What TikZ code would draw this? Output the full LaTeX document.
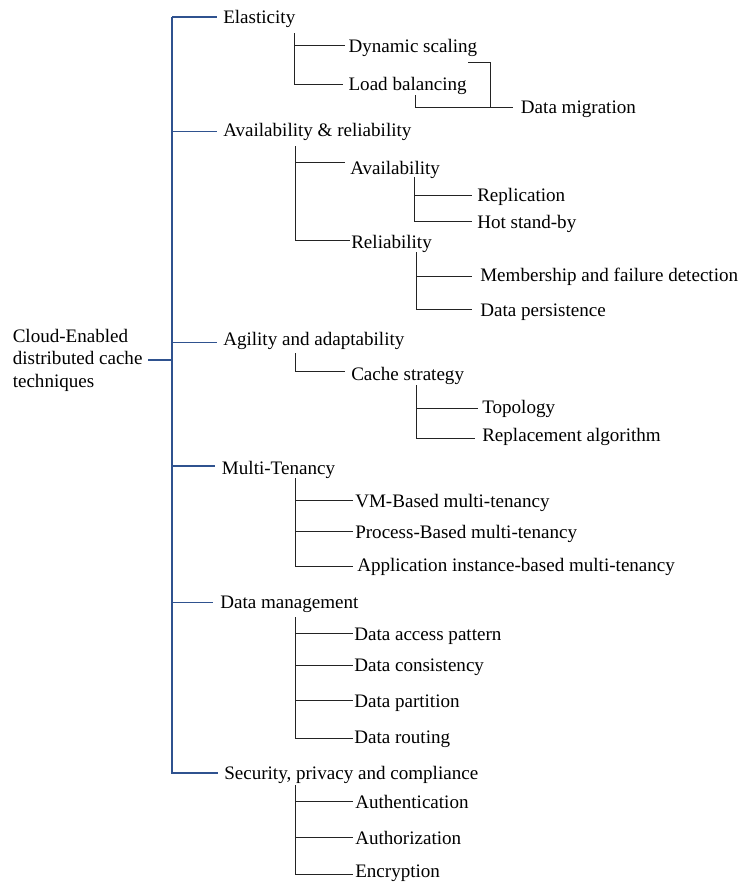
\documentclass[tikz,border=0pt]{standalone}
\usepackage{fontspec}
\setmainfont{Liberation Serif}
\definecolor{trunk}{RGB}{47,82,143}
\definecolor{twig}{RGB}{35,35,35}
\tikzset{
  lbl/.style={anchor=base west, inner sep=0pt, font=\fontsize{14.3}{16.9}\selectfont, text=black},
  trunkline/.style={draw=trunk, line width=0.8pt},
  twigline/.style={draw=twig, line width=0.75pt}
}
\begin{document}
\begin{tikzpicture}[x=0.75pt,y=-0.75pt]
\useasboundingbox (0,0) rectangle (740,882);
\fill[white] (0,0) rectangle (740,882);

% ---------- root ----------
\node[lbl, anchor=west, align=left] (root) at (12.5,360.4) {Cloud-Enabled\\distributed cache\\techniques};
\coordinate (root-e) at (148,360);
\coordinate (tj) at (172,360);

% ---------- level 1 labels ----------
\node[lbl] (elast) at (223,23.3) {Elasticity};
\node[lbl] (avrel) at (223,136.7) {Availability \& reliability};
\node[lbl] (agil)  at (223,345) {Agility and adaptability};
\node[lbl] (multi) at (221.7,474) {Multi-Tenancy};
\node[lbl] (dm)    at (220,608.3) {Data management};
\node[lbl] (sec)   at (224,779.3) {Security, privacy and compliance};

\coordinate (t-top) at (172,17);
\coordinate (elast-e) at (217,17);
\coordinate (avrel-e) at (217,131.7);
\coordinate (agil-e)  at (217,342.7);
\coordinate (multi-e) at (215,466);
\coordinate (dm-e)    at (213,602.7);
\coordinate (sec-e)   at (218,773);

\draw[trunkline] (t-top) |- (sec-e);
\draw[trunkline] (t-top) -- (elast-e);
\draw[trunkline] (t-top |- avrel-e) -- (avrel-e);
\draw[trunkline] (t-top |- agil-e) -- (agil-e);
\draw[trunkline] (t-top |- multi-e) -- (multi-e);
\draw[trunkline] (t-top |- dm-e) -- (dm-e);
\draw[trunkline] (root-e) -- (tj);

% ---------- Elasticity ----------
\node[lbl] (dyn)  at (348.3,52.3) {Dynamic scaling};
\node[lbl] (load) at (348.3,90.7) {Load balancing};
\node[lbl] (migr) at (520.7,113.3) {Data migration};
\coordinate (ev) at (294.3,33.3);
\coordinate (dyn-e) at (345,45);
\coordinate (load-e) at (343,84.3);
\draw[twigline] (ev) |- (load-e);
\draw[twigline] (ev |- dyn-e) -- (dyn-e);
\coordinate (mig-a) at (468,62.7);
\coordinate (mig-b) at (490.7,107.3);
\coordinate (mig-c) at (415,95);
\coordinate (migr-e) at (513.3,107.3);
\draw[twigline] (mig-a) -| (mig-b);
\draw[twigline] (mig-c) |- (migr-e);

% ---------- Availability & reliability ----------
\node[lbl] (avail) at (350,174) {Availability};
\node[lbl] (relia) at (351,248) {Reliability};
\coordinate (av) at (295,146);
\coordinate (avail-e) at (345,162.7);
\coordinate (relia-e) at (350,240.7);
\draw[twigline] (av) |- (relia-e);
\draw[twigline] (av |- avail-e) -- (avail-e);

\node[lbl] (repl) at (477,201.7) {Replication};
\node[lbl] (hot)  at (477,228.3) {Hot stand-by};
\coordinate (avv) at (414,177);
\coordinate (repl-e) at (472,195);
\coordinate (hot-e) at (472,221.7);
\draw[twigline] (avv) |- (hot-e);
\draw[twigline] (avv |- repl-e) -- (repl-e);

\node[lbl] (memb) at (480,281.7) {Membership and failure detection};
\node[lbl] (pers) at (480,316) {Data persistence};
\coordinate (rv) at (416,252);
\coordinate (memb-e) at (472,276.7);
\coordinate (pers-e) at (472,309);
\draw[twigline] (rv) |- (pers-e);
\draw[twigline] (rv |- memb-e) -- (memb-e);

% ---------- Agility ----------
\node[lbl] (cache) at (351,380) {Cache strategy};
\coordinate (agv) at (295,353);
\coordinate (cache-e) at (345,371.7);
\draw[twigline] (agv) |- (cache-e);

\node[lbl] (topo) at (482,413) {Topology};
\node[lbl] (repa) at (482,441.7) {Replacement algorithm};
\coordinate (cv) at (416,385);
\coordinate (topo-e) at (478,408);
\coordinate (repa-e) at (475,438);
\draw[twigline] (cv) |- (repa-e);
\draw[twigline] (cv |- topo-e) -- (topo-e);

% ---------- Multi-Tenancy ----------
\node[lbl] (vm)   at (355,507.3) {VM-Based multi-tenancy};
\node[lbl] (proc) at (355,538.3) {Process-Based multi-tenancy};
\node[lbl] (app)  at (357,571.7) {Application instance-based multi-tenancy};
\coordinate (mv) at (295,478.3);
\coordinate (vm-e) at (353,500.7);
\coordinate (proc-e) at (353,531.7);
\coordinate (app-e) at (353,566);
\draw[twigline] (mv) |- (app-e);
\draw[twigline] (mv |- vm-e) -- (vm-e);
\draw[twigline] (mv |- proc-e) -- (proc-e);

% ---------- Data management ----------
\node[lbl] (dacc) at (354,640) {Data access pattern};
\node[lbl] (dcon) at (354,671.7) {Data consistency};
\node[lbl] (dpar) at (354,707.3) {Data partition};
\node[lbl] (drou) at (354,743.3) {Data routing};
\coordinate (dv) at (295,617);
\coordinate (dacc-e) at (353,633);
\coordinate (dcon-e) at (353,665);
\coordinate (dpar-e) at (353,700.7);
\coordinate (drou-e) at (353,738);
\draw[twigline] (dv) |- (drou-e);
\draw[twigline] (dv |- dacc-e) -- (dacc-e);
\draw[twigline] (dv |- dcon-e) -- (dcon-e);
\draw[twigline] (dv |- dpar-e) -- (dpar-e);

% ---------- Security ----------
\node[lbl] (authn) at (355,808.3) {Authentication};
\node[lbl] (authz) at (355,844) {Authorization};
\node[lbl] (encr)  at (355,877.7) {Encryption};
\coordinate (sv) at (295,785);
\coordinate (authn-e) at (353,801);
\coordinate (authz-e) at (353,837.7);
\coordinate (encr-e) at (353,874);
\draw[twigline] (sv) |- (encr-e);
\draw[twigline] (sv |- authn-e) -- (authn-e);
\draw[twigline] (sv |- authz-e) -- (authz-e);
\end{tikzpicture}
\end{document}
